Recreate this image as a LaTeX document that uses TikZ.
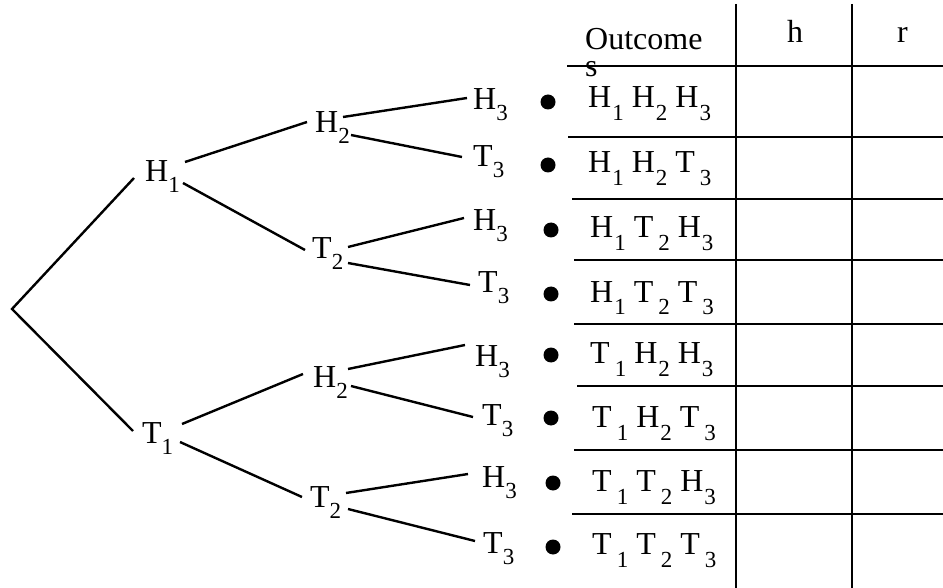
\documentclass[tikz,border=0pt]{standalone}
\usepackage{fontspec}
\setmainfont{Liberation Serif}
\newcommand\tsb[1]{\raisebox{-11pt}{\fontsize{23}{23}\selectfont #1}}
\newcommand\rsb[1]{\raisebox{-13pt}{\fontsize{23}{23}\selectfont #1}}
\newcommand\RH[1]{H\kern1pt\rsb{#1}}
\newcommand\RT[1]{T\kern5pt\rsb{#1}}
\newcommand\rgap{\hspace{8pt}}
\begin{document}
\begin{tikzpicture}[x=1pt,y=-1pt,
  lab/.style={inner sep=0pt, anchor=base west, font=\fontsize{32}{32}\selectfont},
  dotmark/.style={circle, fill=black, inner sep=0pt, minimum size=15pt},
  branch/.style={line width=2.4pt},
  grid/.style={line width=2.6pt}]
\useasboundingbox (0,0) rectangle (943,588);
% root
\coordinate (root) at (12,309);
% level 1
\node[lab] (H1) at (145,182) {H\tsb{1}};
\node[lab] (T1) at (142,443) {T\tsb{1}};
% level 2
\node[lab] (H2a) at (315,133) {H\tsb{2}};
\node[lab] (T2a) at (312,259) {T\tsb{2}};
\node[lab] (H2b) at (313,387) {H\tsb{2}};
\node[lab] (T2b) at (310,507) {T\tsb{2}};
% level 3
\node[lab] (L1) at (473,110) {H\tsb{3}};
\node[lab] (L2) at (473,167) {T\tsb{3}};
\node[lab] (L3) at (473,231) {H\tsb{3}};
\node[lab] (L4) at (478,293) {T\tsb{3}};
\node[lab] (L5) at (475,366) {H\tsb{3}};
\node[lab] (L6) at (482,425) {T\tsb{3}};
\node[lab] (L7) at (482,487) {H\tsb{3}};
\node[lab] (L8) at (483,553) {T\tsb{3}};
% branches
\draw[branch] ([shift={(-11,-4)}]H1.base west) -- (root) -- ([shift={(-9,-12)}]T1.base west);
\draw[branch] ([shift={(40,-20)}]H1.base west) -- ([shift={(-8,-11)}]H2a.base west);
\draw[branch] ([shift={(38,1)}]H1.base west) -- ([shift={(-7,-9)}]T2a.base west);
\draw[branch] ([shift={(40,-19)}]T1.base west) -- ([shift={(-10,-13)}]H2b.base west);
\draw[branch] ([shift={(38,-1)}]T1.base west) -- ([shift={(-8,-10)}]T2b.base west);
\draw[branch] ([shift={(28,-16)}]H2a.base west) -- ([shift={(-6,-12)}]L1.base west);
\draw[branch] ([shift={(36,2)}]H2a.base west) -- ([shift={(-11,-10)}]L2.base west);
\draw[branch] ([shift={(36,-12)}]T2a.base west) -- ([shift={(-9,-13)}]L3.base west);
\draw[branch] ([shift={(36,4)}]T2a.base west) -- ([shift={(-8,-8)}]L4.base west);
\draw[branch] ([shift={(35,-18)}]H2b.base west) -- ([shift={(-10,-21)}]L5.base west);
\draw[branch] ([shift={(38,-1)}]H2b.base west) -- ([shift={(-9,-8)}]L6.base west);
\draw[branch] ([shift={(36,-14)}]T2b.base west) -- ([shift={(-14,-13)}]L7.base west);
\draw[branch] ([shift={(38,2)}]T2b.base west) -- ([shift={(-8,-12)}]L8.base west);
% dots
\node[dotmark] (d1) at (548,102) {};
\node[dotmark] (d2) at (548,165) {};
\node[dotmark] (d3) at (551,230) {};
\node[dotmark] (d4) at (551,294) {};
\node[dotmark] (d5) at (551,355) {};
\node[dotmark] (d6) at (551,418) {};
\node[dotmark] (d7) at (553,483) {};
\node[dotmark] (d8) at (553,547) {};
% table lines
\draw[grid] (736,4) -- (736,588);
\draw[grid] (852,4) -- (852,588);
\draw[grid] (567,66) -- (943,66);
\draw[grid] (568,137) -- (943,137);
\draw[grid] (572,199) -- (943,199);
\draw[grid] (574,260) -- (943,260);
\draw[grid] (574,324) -- (943,324);
\draw[grid] (577,386) -- (943,386);
\draw[grid] (574,450) -- (943,450);
\draw[grid] (572,514) -- (943,514);
% header
\node[lab] (hO) at (585,50) {Outcome};
\node[lab] (hs) at (585,77) {s};
\node[lab] (hh) at (787,43) {h};
\node[lab] (hr) at (897,43) {r};
% outcomes
\node[lab] (o1) at (588,108) {\RH{1}\rgap\RH{2}\rgap\RH{3}};
\node[lab] (o2) at (588,173) {\RH{1}\rgap\RH{2}\rgap\RT{3}};
\node[lab] (o3) at (590,238) {\RH{1}\rgap\RT{2}\rgap\RH{3}};
\node[lab] (o4) at (590,302) {\RH{1}\rgap\RT{2}\rgap\RT{3}};
\node[lab] (o5) at (590,363) {\RT{1}\rgap\RH{2}\rgap\RH{3}};
\node[lab] (o6) at (592,427) {\RT{1}\rgap\RH{2}\rgap\RT{3}};
\node[lab] (o7) at (592,491) {\RT{1}\rgap\RT{2}\rgap\RH{3}};
\node[lab] (o8) at (592,554) {\RT{1}\rgap\RT{2}\rgap\RT{3}};
\end{tikzpicture}
\end{document}
